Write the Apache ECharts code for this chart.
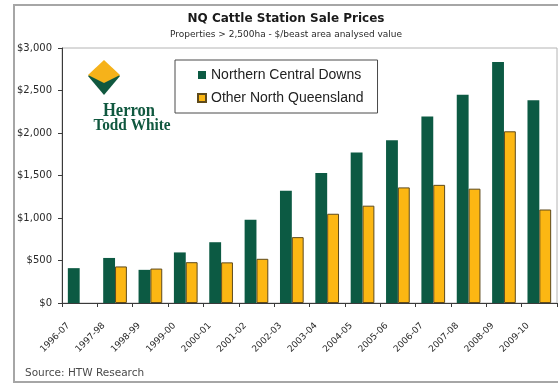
<!DOCTYPE html>
<html>
<head>
<meta charset="utf-8">
<script src="https://cdn.jsdelivr.net/npm/echarts@6/dist/echarts.min.js"></script>
<style>
  html, body { margin: 0; padding: 0; background: #fff; }
  #chart { width: 558px; height: 385px; }
</style>
</head>
<body>
<div id="chart"></div>
<script>
// Financial years
const categories = ['1996-07', '1997-98', '1998-99', '1999-00', '2000-01', '2001-02', '2002-03',
  '2003-04', '2004-05', '2005-06', '2006-07', '2007-08', '2008-09', '2009-10'];

// $/beast area analysed value
const northernCentralDowns = [410, 530, 390, 595, 715, 980, 1320, 1530, 1770, 1915, 2195, 2450, 2835, 2385];
const otherNorthQueensland = [null, 430, 405, 480, 478, 520, 775, 1050, 1145, 1360, 1390, 1345, 2020, 1100];

// Value axis
const yMin = 0;
const yMax = 3000;
const yStep = 500;

const GREEN = '#0c5a43';
const GOLD = '#fcb713';
const SANS = 'DejaVu Sans';
const ARIAL = 'Liberation Sans, Arial, sans-serif';

function dollars(v) {
  return '$' + String(v).replace(/\B(?=(\d{3})+(?!\d))/g, ',');
}

const chart = echarts.init(document.getElementById('chart'), null, { renderer: 'canvas' });

chart.setOption({
  animation: false,
  backgroundColor: '#ffffff',
  title: {
    text: 'NQ Cattle Station Sale Prices',
    subtext: 'Properties > 2,500ha - $/beast area analysed value',
    left: 286,
    textAlign: 'center',
    top: 13,
    itemGap: 5,
    padding: 0,
    textStyle: { fontFamily: SANS, fontSize: 12, fontWeight: 'bold', color: '#1a1a1a' },
    subtextStyle: { fontFamily: SANS, fontSize: 9, color: '#2a2a2a' }
  },
  legend: {
    orient: 'vertical',
    left: 175,
    top: 60,
    padding: [7, 14, 7, 22],
    itemGap: 7,
    itemWidth: 8,
    itemHeight: 8,
    icon: 'rect',
    borderColor: '#4a4a4a',
    borderWidth: 1,
    textStyle: { fontFamily: ARIAL, fontSize: 14, lineHeight: 16, color: '#222' },
    data: ['Northern Central Downs', 'Other North Queensland']
  },
  grid: {
    left: 62,
    right: 1,
    top: 48,
    bottom: 82,
    show: true,
    borderColor: '#b4b4b4',
    borderWidth: 1,
    containLabel: false
  },
  xAxis: {
    type: 'category',
    data: categories,
    axisLine: { lineStyle: { color: '#3a3a3a', width: 1 } },
    axisTick: { show: true, length: 4, lineStyle: { color: '#3a3a3a' } },
    axisLabel: {
      rotate: 45,
      interval: 0,
      margin: 10,
      padding: [0, 16, 0, 0],
      fontFamily: SANS,
      fontSize: 9,
      color: '#2a2a2a'
    },
    splitLine: { show: false }
  },
  yAxis: {
    type: 'value',
    min: yMin,
    max: yMax,
    interval: yStep,
    axisLine: { show: true, lineStyle: { color: '#3a3a3a', width: 1 } },
    axisTick: { show: true, length: 4, lineStyle: { color: '#3a3a3a' } },
    axisLabel: {
      margin: 10,
      fontFamily: SANS,
      fontSize: 10,
      color: '#2a2a2a',
      formatter: dollars
    },
    splitLine: { show: false }
  },
  series: [
    {
      name: 'Northern Central Downs',
      type: 'bar',
      data: northernCentralDowns,
      barGap: '0%',
      barCategoryGap: '33%',
      itemStyle: { color: GREEN }
    },
    {
      name: 'Other North Queensland',
      type: 'bar',
      data: otherNorthQueensland,
      barGap: '0%',
      barCategoryGap: '33%',
      itemStyle: { color: GOLD, borderColor: '#5e4a1c', borderWidth: 1 }
    }
  ],
  graphic: [
    // outer chart frame
    {
      type: 'rect',
      silent: true,
      shape: { x: 14, y: 5, width: 600, height: 377 },
      style: { fill: 'none', stroke: '#a6a6a6', lineWidth: 2 }
    },
    // company mark: green lower diamond under gold upper diamond
    {
      type: 'polygon',
      silent: true,
      shape: { points: [[104, 61], [120, 76], [104, 95], [88, 76]] },
      style: { fill: '#10583f' }
    },
    {
      type: 'polygon',
      silent: true,
      shape: { points: [[104, 60], [120, 75], [104, 83], [88, 75]] },
      style: { fill: '#f6b21a' }
    },
    {
      type: 'text',
      silent: true,
      x: 129, y: 111,
      scaleX: 0.92,
      style: {
        text: 'Herron',
        font: 'bold 18px "Liberation Serif", serif',
        fill: '#10583f',
        align: 'center',
        verticalAlign: 'middle'
      }
    },
    {
      type: 'text',
      silent: true,
      x: 132, y: 126,
      scaleX: 0.9,
      style: {
        text: 'Todd White',
        font: 'bold 17px "Liberation Serif", serif',
        fill: '#10583f',
        align: 'center',
        verticalAlign: 'middle'
      }
    },
    {
      type: 'text',
      silent: true,
      x: 25, y: 373,
      style: {
        text: 'Source: HTW Research',
        font: '10.5px "DejaVu Sans", sans-serif',
        fill: '#4a4a4a',
        align: 'left',
        verticalAlign: 'middle'
      }
    }
  ]
});
</script>
</body>
</html>
